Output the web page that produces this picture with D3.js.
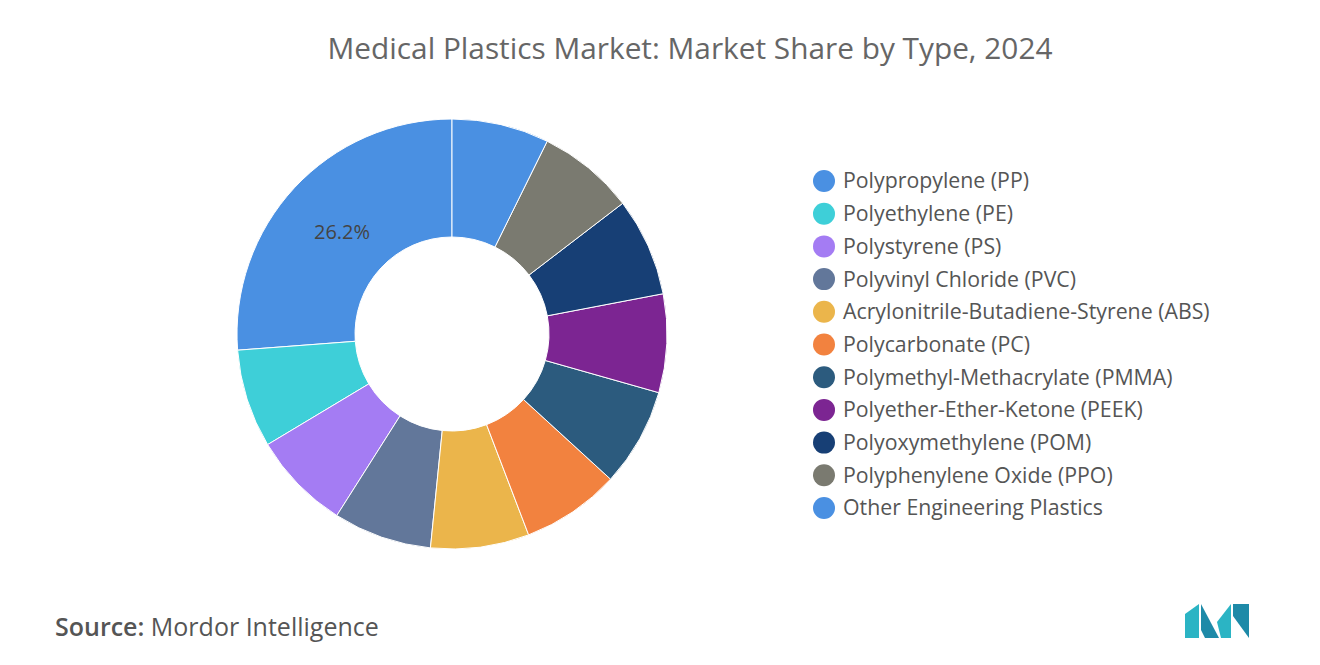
<!DOCTYPE html>
<html><head><meta charset="utf-8">
<script src="https://cdn.jsdelivr.net/npm/d3@7"></script>
<style>body{margin:0;background:#fff;font-family:"Open Sans",sans-serif}</style>
</head><body>
<svg id="chart" width="1320" height="665"></svg>
<script>
var types = ["Polypropylene (PP)", "Polyethylene (PE)", "Polystyrene (PS)", "Polyvinyl Chloride (PVC)",
  "Acrylonitrile-Butadiene-Styrene (ABS)", "Polycarbonate (PC)", "Polymethyl-Methacrylate (PMMA)",
  "Polyether-Ether-Ketone (PEEK)", "Polyoxymethylene (POM)", "Polyphenylene Oxide (PPO)", "Other Engineering Plastics"];
var shares = [26.2, 7.4, 7.4, 7.4, 7.4, 7.4, 7.4, 7.4, 7.4, 7.3, 7.3];
var colors = ["#4a90e2", "#3ecfd8", "#a47cf3", "#62779a", "#ebb54b", "#f2823f", "#2c5b7e",
  "#7c2592", "#173f75", "#7a7a70", "#4a90e2"];

var svg = d3.select("#chart");

svg.append("text").attr("x", 690).attr("y", 59).attr("text-anchor", "middle")
  .attr("font-size", 29.8).attr("fill", "#666").text("Medical Plastics Market: Market Share by Type, 2024");

var cx = 452, cy = 334, rOut = 215, rIn = 97;
var pie = d3.pie().sort(null).startAngle(0).endAngle(-2 * Math.PI);
var arc = d3.arc().innerRadius(rIn).outerRadius(rOut);
var g = svg.append("g").attr("transform", "translate(" + cx + "," + cy + ")");
var arcs = pie(shares);
g.selectAll("path").data(arcs).enter().append("path")
  .attr("d", arc).attr("fill", (d, i) => colors[i]).attr("stroke", "#fff").attr("stroke-width", 1);

// label only the big slice
var lab = d3.arc().innerRadius(150).outerRadius(150);
var c = lab.centroid(arcs[0]);
g.append("text").attr("x", c[0]).attr("y", c[1]).attr("dy", "0.35em").attr("text-anchor", "middle")
  .attr("font-size", 20).attr("fill", "#444").text(shares[0] + "%");

// legend
var leg = svg.append("g").selectAll("g").data(types).enter().append("g")
  .attr("transform", (d, i) => "translate(824," + (181 + i * 32.7) + ")");
leg.append("circle").attr("r", 11).attr("fill", (d, i) => colors[i]);
leg.append("text").attr("x", 19).attr("dy", "0.35em").attr("font-size", 21.3).attr("fill", "#555").text(d => d);

// source
var src = svg.append("text").attr("x", 55).attr("y", 636).attr("font-size", 25).attr("fill", "#555");
src.append("tspan").attr("font-weight", 600).text("Source:");
src.append("tspan").text("  Mordor Intelligence");

// logo
var logo = svg.append("g").attr("transform", "translate(1185,604)");
logo.append("path").attr("d", "M0,34 L0,10 L14,0 L14,34 Z").attr("fill", "#2bb4c4");
logo.append("path").attr("d", "M16,0 L34,34 L20,34 L16,26 Z").attr("fill", "#1e8aa8");
logo.append("path").attr("d", "M32,18 L46,0 L46,34 L36,34 Z").attr("fill", "#2bb4c4");
logo.append("path").attr("d", "M48,0 L64,0 L64,34 L48,12 Z").attr("fill", "#1e8aa8");
</script>
</body></html>
